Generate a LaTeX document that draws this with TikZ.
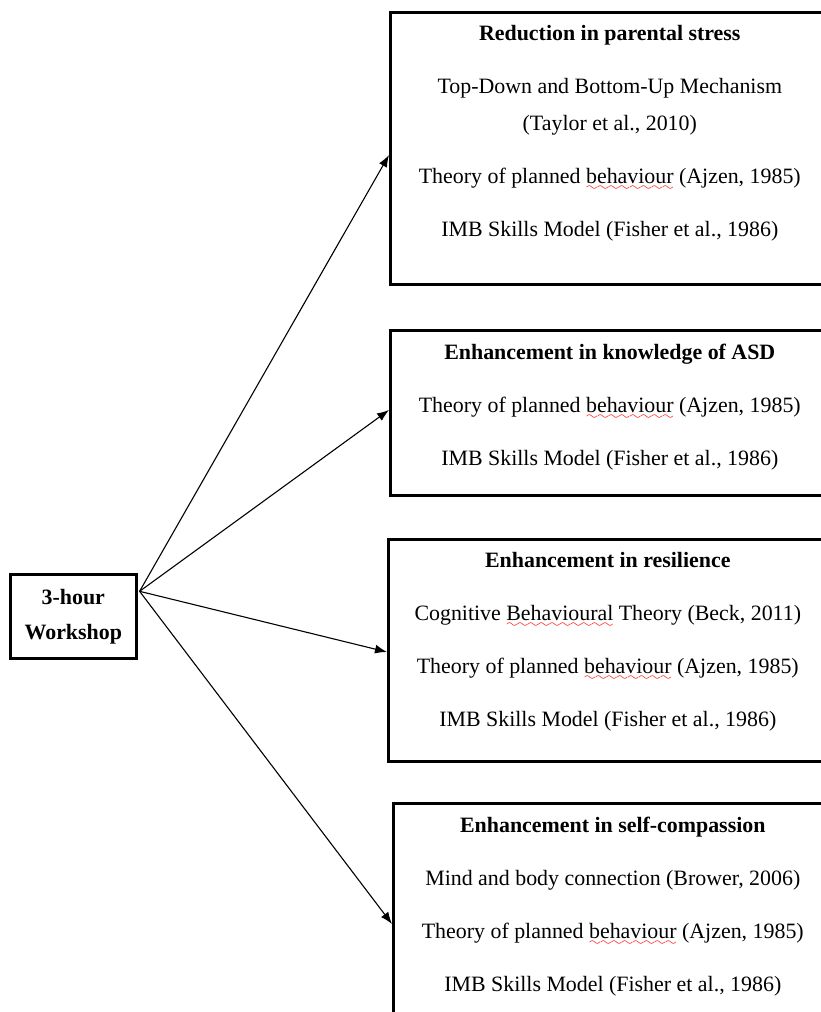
\documentclass[tikz,border=0pt]{standalone}
\usepackage{fontspec}
\setmainfont{Liberation Serif}
\usetikzlibrary{arrows.meta}

% red spell-check squiggle under a word
\font\spellwave=lasy6 at 12pt
\newsavebox{\spellbox}
\newcommand{\spellerr}[1]{\sbox{\spellbox}{#1}\rlap{\textcolor{red}{\lower7pt\hbox to \wd\spellbox{\xleaders\hbox{\spellwave\char58}\hfil}}}#1}

\begin{document}
\begin{tikzpicture}[x=1pt,y=-1pt,
    box/.style={draw, line width=2.6pt, anchor=north west, minimum width=439pt},
    txt/.style={anchor=north, align=center, inner sep=0pt, font=\fontsize{21.9}{37}\selectfont},
    arr/.style={-{Latex[length=12pt,width=9pt]}, line width=1.1pt}]

      % page, the boxes run off on the right and at the bottom
      \clip (0,0) rectangle (821,1012);

      \draw (9,573) node[box, minimum width=126pt, minimum height=84pt, align=center,
            font=\fontsize{21.9}{35}\selectfont\bfseries] (work) {3-hour\\Workshop};

      \draw (389,11) node[box, minimum height=272pt] (stress) {};
      \draw (389,329) node[box, minimum height=165pt] (knowledge) {};
      \draw (387,538) node[box, minimum height=222pt] (resilience) {};
      \draw (392,802) node[box, minimum height=300pt] (compassion) {};

      \draw ([yshift=-14pt]stress.north) node[txt] (stresstxt) {\textbf{Reduction in parental stress}\\[16pt]
            Top-Down and Bottom-Up Mechanism\\(Taylor et al., 2010)\\[16pt]
            Theory of planned \spellerr{behaviour} (Ajzen, 1985)\\[16pt]
            IMB Skills Model (Fisher et al., 1986)};
      \draw ([yshift=-15pt]knowledge.north) node[txt] (knowledgetxt) {\textbf{Enhancement in knowledge of ASD}\\[16pt]
            Theory of planned \spellerr{behaviour} (Ajzen, 1985)\\[16pt]
            IMB Skills Model (Fisher et al., 1986)};
      \draw ([yshift=-14pt]resilience.north) node[txt] (resiliencetxt) {\textbf{Enhancement in resilience}\\[16pt]
            Cognitive \spellerr{Behavioural} Theory (Beck, 2011)\\[16pt]
            Theory of planned \spellerr{behaviour} (Ajzen, 1985)\\[16pt]
            IMB Skills Model (Fisher et al., 1986)};
      \draw ([yshift=-15pt]compassion.north) node[txt] (compassiontxt) {\textbf{Enhancement in self-compassion}\\[16pt]
            Mind and body connection (Brower, 2006)\\[16pt]
            Theory of planned \spellerr{behaviour} (Ajzen, 1985)\\[16pt]
            IMB Skills Model (Fisher et al., 1986)};

      \coordinate (src) at ([xshift=2pt,yshift=25pt]work.east);
      \coordinate (instress) at (stress.west |- 0,155);
      \coordinate (inknowledge) at (knowledge.west |- 0,410);
      \coordinate (inresilience) at (resilience.west |- 0,652);
      \coordinate (incompassion) at (compassion.west |- 0,924);

      \draw [arr] (src) -- (instress);
      \draw [arr] (src) -- (inknowledge);
      \draw [arr] (src) -- (inresilience);
      \draw [arr] (src) -- (incompassion);
    \end{tikzpicture}
\end{document}
